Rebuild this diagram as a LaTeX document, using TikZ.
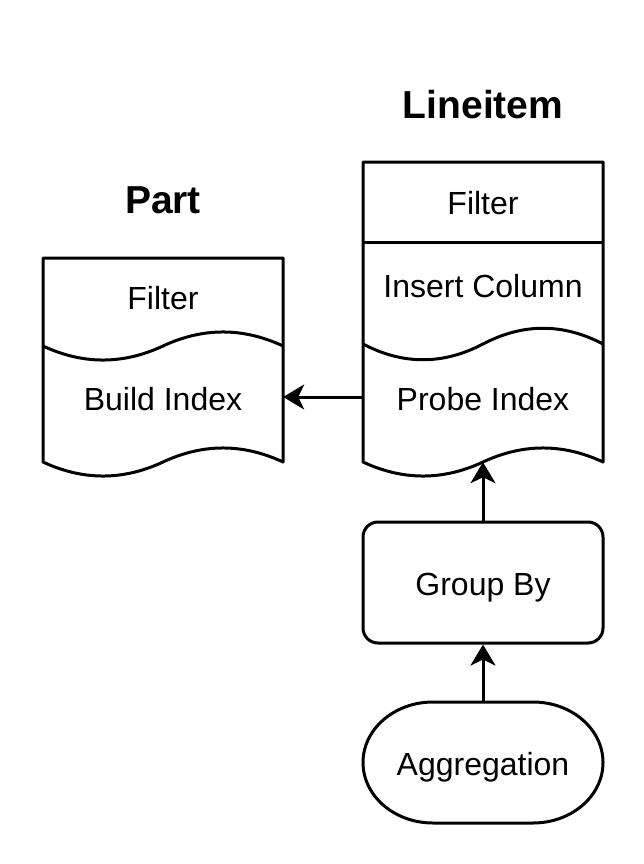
\documentclass[tikz,border=0pt]{standalone}
\usepackage{fontspec}
\setmainfont{Liberation Sans}
\usetikzlibrary{arrows.meta}

\begin{document}
\begin{tikzpicture}[
		x=1pt, y=-1pt,
		shapeline/.style={line width=3pt, line join=round},
		txt/.style={font=\fontsize{32pt}{38pt}\selectfont, text height=26pt, text depth=0pt, inner sep=0pt, minimum width=240pt},
		heading/.style={font=\fontsize{39pt}{46pt}\selectfont\bfseries},
		proc/.style={txt, draw, shapeline, rounded corners=15pt, minimum height=121pt},
		conn/.style={line width=3pt, -{Stealth[length=21pt, width=25pt, inset=6pt]}}
		]
	\useasboundingbox (0,0) rectangle (644,864);

	% Part
	\node [heading] (parttitle) at (163,200) {Part};
	\draw [shapeline] (43,258) -- (283,258) -- (283,462)
		.. controls (243,443.3) and (203,443.3) .. (163,462)
		.. controls (123,480.7) and (83,480.7) .. (43,462) -- cycle;
	\draw [shapeline] (43,346) .. controls (83,364.7) and (123,364.7) .. (163,346)
		.. controls (203,327.3) and (243,327.3) .. (283,346);
	\node [txt] (pfilter) at (163,296) {Filter};
	\node [txt, minimum height=100pt] (pbuild) at (163,397) {Build Index};

	% Lineitem
	\node [heading] (lititle) at (483,105) {Lineitem};
	\draw [shapeline] (363,162) -- (603,162) -- (603,462)
		.. controls (563,443.3) and (523,443.3) .. (483,462)
		.. controls (443,480.7) and (403,480.7) .. (363,462) -- cycle;
	\draw [shapeline] (363,242) -- (603,242);
	\draw [shapeline] (363,344) .. controls (403,365) and (443,365) .. (483,344)
		.. controls (523,323) and (563,323) .. (603,344);
	\node [txt] (lfilter) at (483,201) {Filter};
	\node [txt] (linsert) at (483,284) {Insert Column};
	\node [txt, minimum height=130pt] (lprobe) at (483,397) {Probe Index};

	% below
	\node [proc] (groupby) at (483,582.5) {Group By};
	\node [txt, minimum height=121pt] (aggr) at (483,762.5) {Aggregation};
	\draw [shapeline] (433,702) -- (533,702)
		arc[start angle=-90, end angle=90, x radius=70, y radius=60.5] -- (433,823)
		arc[start angle=90, end angle=270, x radius=70, y radius=60.5] -- cycle;

	\draw [conn] (lprobe.west) -- (pbuild.east);
	\draw [conn] (groupby.north) -- (lprobe.south);
	\draw [conn] (aggr.north) -- (groupby.south);
\end{tikzpicture}
\end{document}
